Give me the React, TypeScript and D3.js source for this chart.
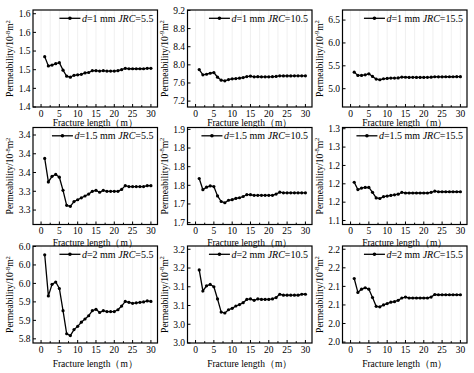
import React, { useEffect, useRef } from 'react';
import * as d3 from 'd3';

// fracture length (m)
const fractureLength = [1, 2, 3, 4, 5, 6, 7, 8, 9, 10, 11, 12, 13, 14, 15, 16, 17, 18, 19, 20, 21, 22, 23, 24, 25, 26, 27, 28, 29, 30];

const permD1Jrc55 = [1.508, 1.488, 1.490, 1.493, 1.495, 1.479, 1.466, 1.464, 1.468, 1.469, 1.470, 1.473, 1.474, 1.478, 1.478, 1.477, 1.478, 1.477, 1.477, 1.477, 1.478, 1.480, 1.483, 1.482, 1.482, 1.482, 1.482, 1.482, 1.483, 1.483];
const permD1Jrc105 = [7.896, 7.779, 7.793, 7.815, 7.830, 7.727, 7.662, 7.647, 7.676, 7.691, 7.698, 7.705, 7.720, 7.742, 7.749, 7.735, 7.740, 7.736, 7.735, 7.735, 7.738, 7.745, 7.757, 7.755, 7.756, 7.756, 7.757, 7.757, 7.758, 7.758];
const permD1Jrc155 = [5.362, 5.290, 5.290, 5.304, 5.326, 5.268, 5.210, 5.196, 5.217, 5.225, 5.232, 5.232, 5.235, 5.254, 5.250, 5.246, 5.248, 5.246, 5.246, 5.246, 5.248, 5.252, 5.261, 5.260, 5.260, 5.261, 5.261, 5.261, 5.262, 5.262];
const permD15Jrc55 = [3.375, 3.350, 3.356, 3.358, 3.355, 3.341, 3.325, 3.324, 3.329, 3.331, 3.333, 3.335, 3.337, 3.340, 3.341, 3.339, 3.341, 3.340, 3.340, 3.340, 3.340, 3.342, 3.346, 3.345, 3.345, 3.345, 3.345, 3.345, 3.346, 3.346];
const permD15Jrc105 = [1.771, 1.753, 1.757, 1.759, 1.758, 1.743, 1.734, 1.732, 1.736, 1.737, 1.739, 1.740, 1.742, 1.745, 1.745, 1.744, 1.744, 1.744, 1.744, 1.744, 1.744, 1.746, 1.749, 1.748, 1.748, 1.748, 1.748, 1.748, 1.748, 1.748];
const permD15Jrc155 = [1.2025, 1.1905, 1.193, 1.194, 1.194, 1.186, 1.177, 1.176, 1.179, 1.180, 1.181, 1.182, 1.183, 1.186, 1.185, 1.185, 1.185, 1.185, 1.185, 1.185, 1.185, 1.186, 1.188, 1.187, 1.187, 1.187, 1.187, 1.187, 1.187, 1.187];
const permD2Jrc55 = [6.012, 5.923, 5.948, 5.953, 5.939, 5.891, 5.841, 5.837, 5.850, 5.857, 5.866, 5.873, 5.880, 5.891, 5.894, 5.887, 5.891, 5.889, 5.889, 5.889, 5.893, 5.901, 5.911, 5.909, 5.907, 5.908, 5.909, 5.910, 5.912, 5.911];
const permD2Jrc105 = [3.156, 3.111, 3.122, 3.125, 3.120, 3.094, 3.066, 3.064, 3.071, 3.074, 3.079, 3.082, 3.086, 3.093, 3.094, 3.091, 3.094, 3.093, 3.093, 3.093, 3.094, 3.097, 3.104, 3.102, 3.102, 3.102, 3.102, 3.102, 3.104, 3.104];
const permD2Jrc155 = [2.137, 2.107, 2.114, 2.117, 2.114, 2.096, 2.077, 2.076, 2.080, 2.083, 2.086, 2.087, 2.090, 2.095, 2.097, 2.095, 2.095, 2.095, 2.095, 2.095, 2.095, 2.097, 2.1025, 2.102, 2.102, 2.102, 2.102, 2.102, 2.102, 2.102];

const series = [permD1Jrc55, permD1Jrc105, permD1Jrc155, permD15Jrc55, permD15Jrc105, permD15Jrc155, permD2Jrc55, permD2Jrc105, permD2Jrc155];

const apertures = ['1', '1', '1', '1.5', '1.5', '1.5', '2', '2', '2'];
const jrcValues = ['5.5', '10.5', '15.5', '5.5', '10.5', '15.5', '5.5', '10.5', '15.5'];
const exponents = ['-8', '-9', '-9', '-8', '-8', '-8', '-8', '-8', '-8'];

const yDomains = [
  [1.40, 1.608], [7.07, 9.21], [4.6, 6.72],
  [3.3046, 3.408], [1.697, 1.853], [1.1335, 1.292],
  [5.821, 6.031], [3.0, 3.207], [1.998, 2.207],
];

const yTickValues = [
  [1.40, 1.44, 1.48, 1.52, 1.56, 1.60],
  [7.2, 7.6, 8.0, 8.4, 8.8, 9.2],
  [5.0, 5.5, 6.0, 6.5],
  [3.32, 3.34, 3.36, 3.38, 3.40],
  [1.70, 1.73, 1.76, 1.79, 1.82, 1.85],
  [1.14, 1.17, 1.20, 1.23, 1.26, 1.29],
  [5.83, 5.87, 5.91, 5.95, 5.99, 6.03],
  [3.00, 3.04, 3.08, 3.12, 3.16, 3.20],
  [2.00, 2.04, 2.08, 2.12, 2.16, 2.20],
];

const yTickLabels = [
  ['1.4', '1.4', '1.5', '1.5', '1.6', '1.6'],
  ['7.2', '7.6', '8.0', '8.4', '8.8', '9.2'],
  ['5.0', '5.5', '6.0', '6.5'],
  ['3.3', '3.3', '3.4', '3.4', '3.4'],
  ['1.7', '1.7', '1.8', '1.8', '1.8', '1.9'],
  ['1.1', '1.2', '1.2', '1.2', '1.3', '1.3'],
  ['5.8', '5.9', '5.9', '6.0', '6.0', '6.0'],
  ['3.0', '3.0', '3.1', '3.1', '3.2', '3.2'],
  ['2.0', '2.0', '2.1', '2.1', '2.2', '2.2'],
];

const xTicks = [0, 5, 10, 15, 20, 25, 30];
const xMinorTicks = [2.5, 7.5, 12.5, 17.5, 22.5, 27.5];

const colLeft = [33, 187.5, 342.5];
const rowTop = [10, 127.5, 246];
const labelOffset = [9.5, 9.5, 10];
const titleOffset = [18.5, 21, 24];
const panelW = 124.5;
const panelH = 97;
const font = '"Liberation Serif", "Times New Roman", serif';

const App = () => {
  const ref = useRef(null);

  useEffect(() => {
    const svg = d3.select(ref.current);
    svg.selectAll('*').remove();

    series.forEach((values, i) => {
      const col = i % 3;
      const row = Math.floor(i / 3);
      const g = svg.append('g')
        .attr('transform', `translate(${colLeft[col]},${rowTop[row]})`);

      const x = d3.scaleLinear().domain([-2.2, 31.8]).range([0, panelW]);
      const y = d3.scaleLinear().domain(yDomains[i]).range([panelH, 0]);

      // faint vertical grid
      g.selectAll('.grid')
        .data(xTicks.concat(xMinorTicks))
        .enter()
        .append('line')
        .attr('x1', (d) => x(d))
        .attr('x2', (d) => x(d))
        .attr('y1', 0)
        .attr('y2', panelH)
        .attr('stroke', '#ececec')
        .attr('stroke-width', 0.8);

      // ticks inward
      g.selectAll('.xt')
        .data(xTicks)
        .enter()
        .append('line')
        .attr('x1', (d) => x(d))
        .attr('x2', (d) => x(d))
        .attr('y1', panelH)
        .attr('y2', panelH - 3)
        .attr('stroke', '#000');

      g.selectAll('.xm')
        .data(xMinorTicks)
        .enter()
        .append('line')
        .attr('x1', (d) => x(d))
        .attr('x2', (d) => x(d))
        .attr('y1', panelH)
        .attr('y2', panelH - 1.8)
        .attr('stroke', '#000');

      g.selectAll('.yt')
        .data(yTickValues[i])
        .enter()
        .append('line')
        .attr('x1', 0)
        .attr('x2', 3)
        .attr('y1', (d) => y(d))
        .attr('y2', (d) => y(d))
        .attr('stroke', '#000');

      g.selectAll('.xl')
        .data(xTicks)
        .enter()
        .append('text')
        .attr('x', (d) => x(d))
        .attr('y', panelH + labelOffset[row])
        .attr('text-anchor', 'middle')
        .attr('font-family', font)
        .attr('font-size', 9.5)
        .text((d) => d);

      g.selectAll('.yl')
        .data(yTickValues[i])
        .enter()
        .append('text')
        .attr('x', -2.5)
        .attr('y', (d) => y(d) + 3.3)
        .attr('text-anchor', 'end')
        .attr('font-family', font)
        .attr('font-size', 9.5)
        .text((d, k) => yTickLabels[i][k]);

      // axis titles
      g.append('text')
        .attr('x', panelW / 2)
        .attr('y', panelH + titleOffset[row])
        .attr('text-anchor', 'middle')
        .attr('font-family', font)
        .attr('font-size', 9.5)
        .text('Fracture length（m）');

      const yl = g.append('text')
        .attr('transform', `translate(${-20},${panelH / 2}) rotate(-90)`)
        .attr('text-anchor', 'middle')
        .attr('font-family', font)
        .attr('font-size', 9.5);
      yl.append('tspan').text('Permeability/10');
      yl.append('tspan').attr('font-size', 6.5).attr('dy', -3.5).text(exponents[i]);
      yl.append('tspan').attr('dy', 3.5).text('m');
      yl.append('tspan').attr('font-size', 6.5).attr('dy', -3.5).text('2');

      // series line + markers
      const line = d3.line()
        .x((d, k) => x(fractureLength[k]))
        .y((d) => y(d));

      g.append('path')
        .datum(values)
        .attr('d', line)
        .attr('fill', 'none')
        .attr('stroke', '#000')
        .attr('stroke-width', 1.3);

      g.selectAll('.pt')
        .data(values)
        .enter()
        .append('circle')
        .attr('cx', (d, k) => x(fractureLength[k]))
        .attr('cy', (d) => y(d))
        .attr('r', 1.6)
        .attr('fill', '#000');

      // legend
      const lt = g.append('text')
        .attr('x', panelW - 4)
        .attr('y', 11.5)
        .attr('text-anchor', 'end')
        .attr('font-family', font)
        .attr('font-size', 10);
      lt.append('tspan').attr('font-style', 'italic').text('d');
      lt.append('tspan').text(`=${apertures[i]} mm `);
      lt.append('tspan').attr('font-style', 'italic').text('JRC');
      lt.append('tspan').text(`=${jrcValues[i]}`);

      const textLen = lt.node().getComputedTextLength();
      const lx2 = panelW - 4 - textLen - 1.5;
      const lx1 = lx2 - 21;
      g.append('line')
        .attr('x1', lx1)
        .attr('x2', lx2)
        .attr('y1', 8.3)
        .attr('y2', 8.3)
        .attr('stroke', '#000')
        .attr('stroke-width', 1.3);
      g.append('circle')
        .attr('cx', (lx1 + lx2) / 2)
        .attr('cy', 8.3)
        .attr('r', 1.8)
        .attr('fill', '#000');

      // frame
      g.append('rect')
        .attr('width', panelW)
        .attr('height', panelH)
        .attr('fill', 'none')
        .attr('stroke', '#000')
        .attr('stroke-width', 1.2);
    });
  }, []);

  return (
    <svg
      ref={ref}
      width={474}
      height={373}
      style={{ position: 'absolute', left: 0, top: 0, background: '#fff' }}
    ></svg>
  );
};

export default App;
